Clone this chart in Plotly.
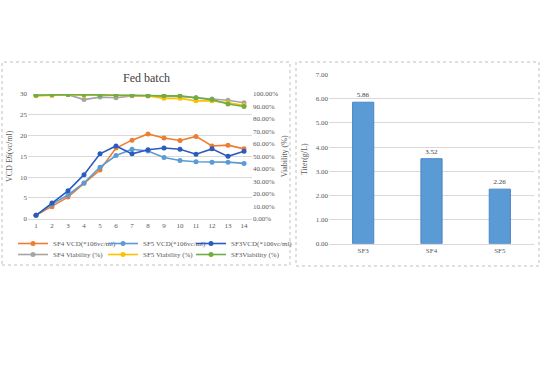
import plotly.graph_objects as go

days = [str(d) for d in range(1, 15)]
sf4_vcd = [0.8, 2.9, 5.2, 8.5, 11.7, 17.0, 18.9, 20.4, 19.4, 18.8, 19.8, 17.5, 17.7, 16.8]
sf5_vcd = [0.8, 3.5, 5.7, 8.6, 12.4, 15.2, 16.7, 16.3, 14.7, 14.0, 13.7, 13.6, 13.6, 13.3]
sf3_vcd = [0.8, 3.8, 6.7, 10.6, 15.6, 17.5, 15.6, 16.6, 17.0, 16.7, 15.5, 16.8, 15.0, 16.2]
sf4_via = [0.99, 0.99, 0.995, 0.955, 0.975, 0.97, 0.985, 0.985, 0.985, 0.98, 0.97, 0.96, 0.95, 0.93]
sf5_via = [0.985, 0.99, 0.995, 0.99, 0.995, 0.99, 0.99, 0.985, 0.965, 0.965, 0.945, 0.945, 0.93, 0.91]
sf3_via = [0.99, 0.995, 0.995, 0.995, 0.99, 0.99, 0.99, 0.985, 0.985, 0.985, 0.97, 0.955, 0.92, 0.90]

groups = ["SF3", "SF4", "SF5"]
titer = [5.86, 3.52, 2.26]

W, H = 540, 368
def fx(px): return px / W
def fy(py): return 1 - py / H

FONT = "Liberation Serif"
fig = go.Figure()

line_specs = [
    ("SF4 VCD(*106vc/ml)", sf4_vcd, "#ED7D31", "y"),
    ("SF5 VCD(*106vc/ml)", sf5_vcd, "#5B9BD5", "y"),
    ("SF3VCD(*106vc/ml)", sf3_vcd, "#2C5BBF", "y"),
    ("SF4 Viability (%)", sf4_via, "#A5A5A5", "y2"),
    ("SF5 Viability (%)", sf5_via, "#FFC000", "y2"),
    ("SF3Viability (%)", sf3_via, "#70AD47", "y2"),
]
legend_names = ["legend", "legend2", "legend3", "legend4", "legend5", "legend6"]
for (name, vals, col, ya), lg in zip(line_specs, legend_names):
    fig.add_trace(go.Scatter(x=days, y=vals, name=name, mode="lines+markers",
                             line=dict(color=col, width=1.6),
                             marker=dict(color=col, size=5),
                             xaxis="x", yaxis=ya, legend=lg))

fig.add_trace(go.Bar(x=groups, y=titer, xaxis="x3", yaxis="y3", width=0.31,
                     marker=dict(color="#5B9BD5", line=dict(color="#4A86C5", width=1)),
                     text=[f"{v:.2f}" for v in titer], textposition="outside",
                     textfont=dict(size=7, color="#404040", family=FONT),
                     cliponaxis=False, showlegend=False))

tickf = dict(size=7, color="#595959", family=FONT)
titf = dict(size=8, color="#595959", family=FONT)
legf = dict(size=7, color="#595959", family=FONT)

col_x = [27, 117, 205]
row_top = [229, 240]
legends = {}
for i, lg in enumerate(legend_names):
    legends[lg] = dict(orientation="h", x=fx(col_x[i % 3] - 14), y=fy(row_top[i // 3]),
                       xanchor="left", yanchor="top", itemwidth=30,
                       font=legf, bgcolor="rgba(0,0,0,0)")

fig.update_layout(
    width=W, height=H, margin=dict(l=0, r=0, t=0, b=0, autoexpand=False),
    paper_bgcolor="white", plot_bgcolor="white",
    font=dict(family=FONT, color="#595959"),
    xaxis=dict(domain=[fx(28), fx(252)], anchor="y", type="category", automargin=False,
               range=[-0.5, 13.5],
               showgrid=False, ticks="", tickfont=tickf, showline=True,
               linecolor="#D9D9D9", linewidth=1),
    yaxis=dict(domain=[fy(218.7), fy(94)], range=[0, 30], dtick=5, automargin=False,
               gridcolor="#D9D9D9", gridwidth=1, tickfont=tickf, zeroline=False,
               title=dict(text="VCD E6(vc/ml)", font=titf, standoff=6)),
    yaxis2=dict(overlaying="y", side="right", range=[0, 1], dtick=0.1, tickformat=".2%",
                showgrid=False, tickfont=tickf, zeroline=False, anchor="x", automargin=False,
                title=dict(text="Viability (%)", font=titf, standoff=4)),
    xaxis3=dict(domain=[fx(329), fx(534)], anchor="y3", type="category", automargin=False,
                range=[-0.5, 2.5],
                showgrid=False, ticks="", tickfont=tickf, showline=True,
                linecolor="#D9D9D9", linewidth=1),
    yaxis3=dict(domain=[fy(243.7), fy(74.7)], anchor="x3", range=[0, 7], dtick=1,
                tickformat=".2f", gridcolor="#D9D9D9", tickfont=tickf, zeroline=False,
                automargin=False,
                title=dict(text="Titer(g/L)", font=titf, standoff=6)),
    showlegend=True,
    annotations=[dict(text="Fed batch", x=fx(146), y=fy(78), xref="paper", yref="paper",
                      xanchor="center", yanchor="middle",
                      showarrow=False, font=dict(size=12, color="#404040", family=FONT))],
    shapes=[
        dict(type="rect", xref="paper", yref="paper", x0=fx(2), x1=fx(290), y0=fy(265), y1=fy(62),
             line=dict(color="#BFBFBF", width=1, dash="dot")),
        dict(type="rect", xref="paper", yref="paper", x0=fx(296), x1=fx(539), y0=fy(266), y1=fy(62),
             line=dict(color="#BFBFBF", width=1, dash="dot")),
    ],
    **legends,
)

fig.write_html("out.html", config={"displayModeBar": False},
               post_script="document.body.style.margin='0';document.body.style.overflow='hidden';")
